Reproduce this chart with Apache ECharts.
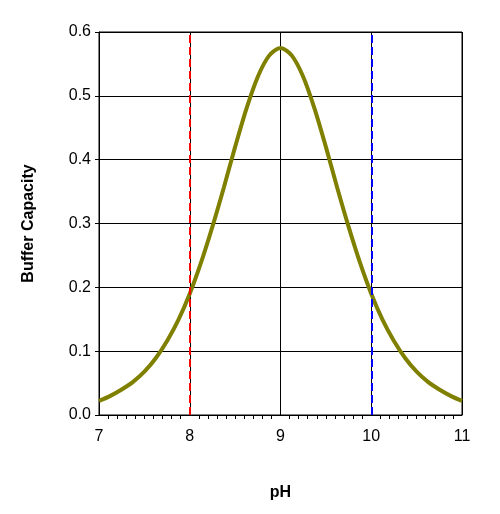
<!DOCTYPE html>
<html><head><meta charset="utf-8">
<script src="https://cdn.jsdelivr.net/npm/echarts@6/dist/echarts.min.js"></script>
<style>body{margin:0;background:#fff}#c{width:500px;height:514px}</style>
</head><body><div id="c"></div>
<script>
const pH = [7,7.125,7.25,7.375,7.5,7.625,7.75,7.875,8,8.125,8.25,8.375,8.5,8.625,8.75,8.875,9,9.125,9.25,9.375,9.5,9.625,9.75,9.875,10,10.125,10.25,10.375,10.5,10.625,10.75,10.875,11];
const capacity = [0.022,0.030,0.040,0.052,0.068,0.089,0.116,0.149,0.190,0.239,0.295,0.356,0.420,0.480,0.530,0.563,0.575,0.563,0.530,0.480,0.420,0.356,0.295,0.239,0.190,0.149,0.116,0.089,0.068,0.052,0.040,0.030,0.022];
const redLine = 8, blueLine = 10;
const chart = echarts.init(document.getElementById('c'));
const font = 'Arial, Liberation Sans, sans-serif';
chart.setOption({
  animation:false,
  grid:{left:99,right:38,top:32,bottom:99,show:true,borderColor:'#000',borderWidth:1},
  xAxis:{type:'value',min:7,max:11,interval:1,name:'pH',nameLocation:'middle',nameGap:70,
    nameTextStyle:{fontWeight:'bold',fontSize:16,fontFamily:font,color:'#000'},
    axisLine:{lineStyle:{color:'#000'}},axisTick:{show:false},
    minorTick:{show:true,splitNumber:10,length:4,lineStyle:{color:'#000'}},
    axisLabel:{fontSize:16,fontFamily:font,color:'#000',margin:14},
    splitLine:{lineStyle:{color:'#000',width:1}}},
  yAxis:{type:'value',min:0,max:0.6,interval:0.1,name:'Buffer Capacity',nameLocation:'middle',nameGap:62,
    nameTextStyle:{fontWeight:'bold',fontSize:16,fontFamily:font,color:'#000'},
    axisLine:{show:true,lineStyle:{color:'#000'}},axisTick:{show:true,length:4,lineStyle:{color:'#000'}},
    axisLabel:{fontSize:16,fontFamily:font,color:'#000',formatter:v=>v.toFixed(1)},
    splitLine:{lineStyle:{color:'#000',width:1}}},
  series:[{type:'line',smooth:0.3,symbol:'none',data:pH.map((x,i)=>[x,capacity[i]]),
    lineStyle:{color:'#808000',width:4},
    markLine:{symbol:'none',silent:true,label:{show:false},
      data:[{xAxis:redLine,lineStyle:{color:'#ff0000',type:'dashed',width:2}},
            {xAxis:blueLine,lineStyle:{color:'#0000ff',type:'dashed',width:2}}]}}]
});
</script></body></html>
